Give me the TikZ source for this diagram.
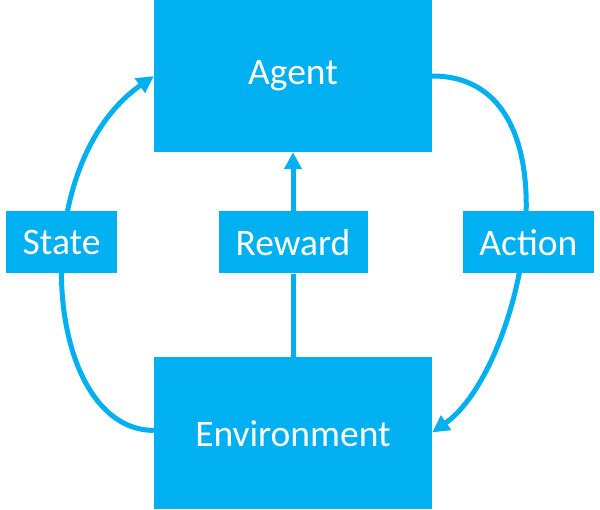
\documentclass[tikz,border=0pt]{standalone}
\usepackage{fontspec}
\setmainfont{Carlito}
\usetikzlibrary{positioning}
\usetikzlibrary{arrows.meta}
\usetikzlibrary{backgrounds}
\definecolor{boxblue}{HTML}{00B0F0}

\begin{document}
\begin{tikzpicture}[x=1pt, y=1pt,
    box/.style={fill=boxblue, text=white, inner sep=0pt, font=\fontsize{37.5}{40}\selectfont},
    big/.style={box, minimum width=278pt, minimum height=152pt},
    small/.style={box, minimum height=62pt},
    link/.style={draw=boxblue, line width=5pt, -{Triangle[width=17pt,length=17pt]}}]
    \useasboundingbox (0,0) rectangle (600,-509);
    \node[big] (agent) at (293,-76) {Agent};
    \node[big, below=205pt of agent] (env) {Environment};
    \node[small, minimum width=149pt, below=59pt of agent] (reward) {Reward};
    \node[small, minimum width=111pt, left=101pt of reward] (state) {State};
    \node[small, minimum width=131pt, right=95pt of reward] (action) {Action};

    \begin{scope}[on background layer]
        \draw[link] ([yshift=3pt]env.west) to[out=180, in=215, out looseness=0.8, in looseness=1.15] (agent.west);
        \draw[link] (agent.east) to[out=0, in=35, out looseness=1.1, in looseness=0.8] ([yshift=1pt]env.east);
        \draw[draw=boxblue, line width=5pt] (env) -- (reward);
        \draw[link] (reward) -- (agent);
    \end{scope}
\end{tikzpicture}
\end{document}
